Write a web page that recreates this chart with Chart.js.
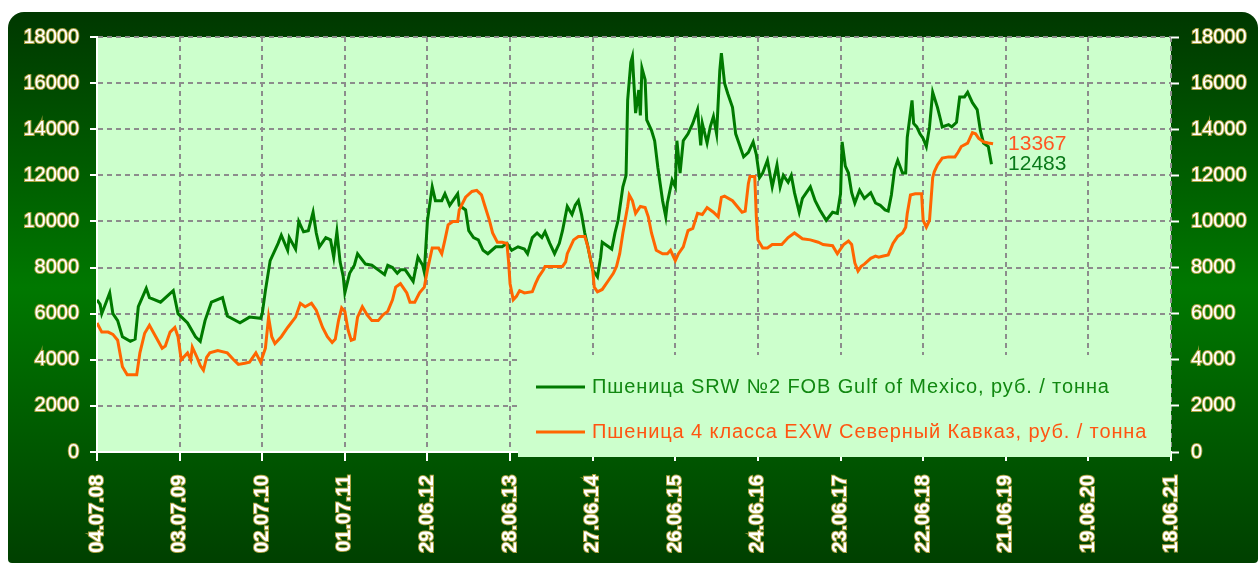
<!DOCTYPE html>
<html>
<head>
<meta charset="utf-8">
<script src="https://cdn.jsdelivr.net/npm/chart.js@4.4.1/dist/chart.umd.min.js"></script>
<style>
html, body { margin: 0; padding: 0; background: #fff; }
#wrap { width: 1258px; height: 563px; position: relative; }
</style>
</head>
<body>
<div id="wrap"><canvas id="chart"></canvas></div>
<script>
/* global Chart */

// x axis: weeks since 04.07.08, one label every 52 weeks
const tickLabels = ['04.07.08', '03.07.09', '02.07.10', '01.07.11', '29.06.12', '28.06.13', '27.06.14',
    '26.06.15', '24.06.16', '23.06.17', '22.06.18', '21.06.19', '19.06.20', '18.06.21'];
const weeksPerTick = 52;

const greenLabel = 'Пшеница SRW №2 FOB Gulf of Mexico, руб. / тонна';
const orangeLabel = 'Пшеница 4 класса EXW Северный Кавказ, руб. / тонна';

const greenWeeks = [0, 2, 3, 8, 10, 13, 16, 21, 24, 26, 31, 33, 40, 48, 51, 57, 62, 65, 68, 72, 79, 82, 90, 96,
    103, 104, 106, 109, 114, 116, 120, 121, 125, 127, 130, 133, 136, 138, 140, 144, 147, 149, 151, 153, 155, 156,
    159, 162, 164, 169, 173, 177, 181, 183, 186, 189, 191, 194, 196, 199, 202, 205, 206, 208, 211, 213, 217, 219,
    222, 227, 228, 232, 234, 237, 240, 243, 246, 251, 255, 258, 261, 265, 269, 271, 274, 277, 280, 282, 285, 288,
    291, 293, 296, 299, 301, 303, 305, 307, 309, 312, 315, 317, 318, 322, 324, 326, 328, 331, 333, 334, 336, 337,
    339, 341, 342, 343, 345, 346, 349, 351, 353, 356, 358, 359, 362, 364, 365, 367, 369, 372, 375, 378, 380, 381,
    384, 386, 388, 390, 392, 393, 395, 397, 400, 402, 404, 407, 410, 413, 415, 417, 419, 422, 425, 428, 430, 432,
    435, 437, 439, 442, 444, 449, 452, 455, 459, 463, 466, 468, 469, 471, 473, 475, 477, 480, 483, 487, 490, 493,
    496, 498, 500, 502, 504, 507, 509, 510, 513, 514, 516, 518, 520, 522, 524, 526, 529, 531, 532, 536, 538, 541,
    543, 546, 548, 551, 554, 556, 558, 561, 563];
const greenValues = [6600, 6400, 6000, 6900, 6000, 5700, 5000, 4800, 4900, 6300, 7100, 6700, 6500, 7000, 6000,
    5600, 5000, 4800, 5700, 6500, 6700, 5900, 5600, 5850,
    5800, 6000, 7000, 8300, 9050, 9400, 8750, 9300, 8800, 10000, 9550, 9600, 10400, 9500, 8900, 9300, 9200, 8450,
    9550, 8250, 7600, 6900,
    7750, 8100, 8600, 8150, 8100, 7900, 7700, 8100, 8000, 7750, 7900, 7900, 7700, 7400, 8450, 8100, 7800, 10050,
    11500, 10900, 10900, 11200,
    10700, 11200, 10700, 10500, 9600, 9300, 9200, 8750, 8600, 8900, 8900, 9050, 8750, 8900, 8800, 8600, 9300, 9500,
    9300, 9550, 9050, 8600,
    9050, 9600, 10650, 10300, 10700, 10900, 10300, 9500, 8900, 7900, 7600, 8450, 9100, 8900, 8800, 9500, 10050,
    11500, 12000, 15250, 16900, 17150,
    14700, 15700, 14600, 16650, 16150, 14400, 13950, 13500, 12350, 10900, 10200, 10800, 11800, 11500, 13500, 12100,
    13500, 13800, 14250, 14850, 13300, 14250,
    13400, 14100, 14550, 13800, 16550, 17300, 16000, 15550, 14950, 13800, 13400, 12800, 13000, 13450, 12900, 11900,
    12100, 12650, 11500, 12450, 11500, 12000,
    11700, 12000, 11250, 10400, 11000, 11500, 10900, 10500, 10050, 10400, 10350, 11200, 13450, 12400, 12100, 11250,
    10800, 11350, 11000, 11250, 10800, 10700,
    10500, 10450, 11150, 12250, 12650, 12100, 12100, 13650, 15250, 14250, 14100, 13800, 13600, 13250, 14100, 15600,
    14950, 14400, 14100, 14200, 14100, 14300,
    15400, 15400, 15600, 15150, 14850, 13950, 13400, 13250, 12483];

const orangeWeeks = [0, 3, 7, 10, 13, 16, 19, 25, 27, 30, 33, 37, 41, 43, 46, 49, 51, 53, 57, 59, 60, 63, 65, 67,
    69, 71, 76, 82, 86, 89, 93, 96, 100, 103, 106, 108, 110, 112, 116, 120, 125, 128, 131, 135, 138, 142, 145, 148,
    150, 152, 154, 156, 158, 160, 162, 164, 167, 170, 173, 177, 180, 183, 186, 188, 191, 195, 197, 200, 203, 206,
    208, 211, 215, 217, 219, 221, 224, 227, 228, 232, 236, 239, 242, 244, 247, 249, 252, 255, 258, 259, 260, 262,
    264, 266, 269, 274, 276, 278, 281, 282, 293, 295, 296, 300, 303, 307, 309, 312, 313, 315, 318, 322, 325, 327,
    329, 331, 334, 335, 337, 339, 342, 345, 347, 349, 352, 356, 359, 361, 364, 366, 369, 372, 375, 378, 381, 384,
    388, 391, 393, 395, 400, 403, 406, 408, 410, 411, 414, 415, 416, 419, 422, 425, 431, 435, 439, 444, 449, 454,
    457, 463, 466, 470, 473, 475, 477, 479, 481, 483, 487, 490, 492, 495, 498, 501, 504, 507, 509, 510, 512, 515,
    519, 520, 522, 524, 526, 527, 529, 532, 536, 540, 542, 544, 548, 551, 553, 555, 558, 561, 564];
const orangeValues = [5600, 5200, 5200, 5100, 4850, 3700, 3350, 3350, 4300, 5150, 5500, 5000, 4500, 4600, 5200,
    5400, 5000, 4000, 4300, 4000, 4550, 4100, 3750, 3550,
    4100, 4300, 4400, 4300, 4000, 3800, 3850, 3900, 4300, 3900, 4500, 5850, 5000, 4700, 5000, 5400, 5850, 6450,
    6300, 6450, 6150, 5400, 5000, 4750,
    4900, 5700, 6250, 6100, 5300, 4850, 4900, 5850, 6300, 5950, 5700, 5700, 5950, 6100, 6600, 7150, 7300, 6900,
    6500, 6500, 6900, 7150,
    7900, 8850, 8850, 8600, 9200, 9850, 10000, 10000, 10500, 11050, 11300, 11350, 11150, 10700, 10050, 9500, 9100,
    9100, 9050, 8300, 7300, 6600,
    6750, 7000, 6900, 6950, 7300, 7600, 7900, 8050, 8050, 8250, 8600, 9200, 9350, 9350, 8900, 7900, 7150, 6950,
    7050, 7450, 7750, 8050,
    8600, 9500, 10650, 11150, 10900, 10350, 10650, 10600, 10200, 9500, 8750, 8600, 8600, 8750, 8300, 8600, 8900,
    9600, 9700, 10350, 10300, 10600,
    10400, 10200, 11050, 11100, 10900, 10650, 10400, 10450, 11650, 11950, 11950, 10200, 9200, 8850, 8850, 9000,
    9000, 9300, 9500, 9250, 9200, 9100,
    9000, 8950, 8600, 9000, 9150, 9000, 8200, 7850, 8050, 8150, 8400, 8500, 8450, 8500, 8550, 9050, 9350, 9500,
    9750, 10350, 11150, 11200,
    11200, 10050, 9750, 10050, 11900, 12150, 12450, 12750, 12800, 12800, 13000, 13250, 13400, 13850, 13800, 13600,
    13450, 13400, 13367];

const yMax = 18000;
const yStep = 2000;

const fontFamily = '"Liberation Sans", Arial, sans-serif';
const greenColor = '#007a00';
const orangeColor = '#ff6600';
const plotColor = '#ccffcc';
const gridColor = '#8c8c8c';

const toPoints = (weeks, values) => weeks.map((week, i) => ({ x: week, y: values[i] }));

const framePlugin = {
    id: 'frame',
    beforeDraw(chart) {
        const { ctx, width, height, chartArea } = chart;
        ctx.save();
        ctx.fillStyle = '#fff';
        ctx.fillRect(0, 0, width, height);

        const gradient = ctx.createLinearGradient(0, 12, 0, height);
        gradient.addColorStop(0, '#003800');
        gradient.addColorStop(0.5, '#007800');
        gradient.addColorStop(1, '#004000');
        ctx.fillStyle = gradient;
        ctx.beginPath();
        ctx.roundRect(8, 12, width - 8, height - 12, [16, 16, 4, 4]);
        ctx.fill();

        ctx.fillStyle = plotColor;
        ctx.fillRect(chartArea.left, chartArea.top, chartArea.right - chartArea.left, chartArea.bottom - chartArea.top);
        ctx.restore();
    }
};

const legendPlugin = {
    id: 'boxLegend',
    afterDatasetsDraw(chart) {
        const { ctx, chartArea } = chart;
        const x = 518;
        const y = 355;
        ctx.save();
        ctx.fillStyle = plotColor;
        ctx.fillRect(x, y, chartArea.right - x, chartArea.bottom + 5 - y);

        ctx.font = `20px ${fontFamily}`;
        ctx.letterSpacing = '0.9px';
        ctx.textBaseline = 'middle';
        [[greenColor, '#118811', greenLabel, 387], [orangeColor, '#ff5511', orangeLabel, 432]].forEach(([line, text, label, ly]) => {
            ctx.strokeStyle = line;
            ctx.lineWidth = 3;
            ctx.beginPath();
            ctx.moveTo(536, ly);
            ctx.lineTo(585, ly);
            ctx.stroke();
            ctx.fillStyle = text;
            ctx.fillText(label, 592, ly);
        });
        ctx.letterSpacing = '0px';

        // last values at the ends of the lines
        const xScale = chart.scales.x;
        const yScale = chart.scales.y;
        const endX = xScale.getPixelForValue(orangeWeeks[orangeWeeks.length - 1]) + 15;
        ctx.font = `21px ${fontFamily}`;
        ctx.fillStyle = '#ff5522';
        ctx.fillText(String(orangeValues[orangeValues.length - 1]), endX,
            yScale.getPixelForValue(orangeValues[orangeValues.length - 1]));
        ctx.fillStyle = '#0a7a1a';
        ctx.fillText(String(greenValues[greenValues.length - 1]), endX,
            yScale.getPixelForValue(greenValues[greenValues.length - 1]));
        ctx.restore();
    }
};

const tickFont = { family: fontFamily, size: 20 };
const glow = { textStrokeColor: 'rgba(190,170,70,0.9)', textStrokeWidth: 2 };
const plainNumber = (value) => String(value);

new Chart(document.getElementById('chart'), {
    type: 'line',
    data: {
        datasets: [
            {
                label: orangeLabel,
                data: toPoints(orangeWeeks, orangeValues),
                borderColor: orangeColor,
                borderWidth: 3,
                pointRadius: 0,
                tension: 0,
                order: 0
            },
            {
                label: greenLabel,
                data: toPoints(greenWeeks, greenValues),
                borderColor: greenColor,
                borderWidth: 3,
                pointRadius: 0,
                tension: 0,
                order: 1
            }
        ]
    },
    options: {
        responsive: true,
        maintainAspectRatio: false,
        animation: false,
        devicePixelRatio: 1,
        layout: { padding: { top: 37, left: 0, right: 0, bottom: 0 } },
        plugins: {
            legend: { display: false },
            tooltip: { enabled: false }
        },
        scales: {
            x: {
                type: 'linear',
                min: 0,
                max: weeksPerTick * (tickLabels.length - 1),
                afterBuildTicks: (scale) => {
                    scale.ticks = tickLabels.map((_, i) => ({ value: i * weeksPerTick }));
                },
                afterFit: (scale) => { scale.height = 111; },
                ticks: {
                    callback: (value, index) => tickLabels[index],
                    autoSkip: false,
                    minRotation: 90,
                    maxRotation: 90,
                    padding: 14,
                    color: '#fff',
                    font: { family: fontFamily, size: 20, weight: 'bold' },
                    ...glow
                },
                grid: {
                    color: gridColor,
                    lineWidth: 2,
                    tickLength: 9,
                    tickColor: '#fff',
                    tickWidth: 2,
                    tickBorderDash: []
                },
                border: { display: true, color: '#fff', width: 2, dash: [5, 4] }
            },
            y: {
                position: 'left',
                min: 0,
                max: yMax,
                afterFit: (scale) => { scale.width = 97; },
                ticks: { stepSize: yStep, padding: 11, color: '#fff', font: tickFont, callback: plainNumber, ...glow },
                grid: {
                    color: gridColor,
                    lineWidth: 2,
                    tickLength: 7,
                    tickColor: '#fff',
                    tickWidth: 2,
                    tickBorderDash: []
                },
                border: { display: true, color: '#fff', width: 2, dash: [5, 4] }
            },
            y1: {
                position: 'right',
                min: 0,
                max: yMax,
                afterFit: (scale) => { scale.width = 87; },
                ticks: { stepSize: yStep, padding: 12, color: '#fff', font: tickFont, callback: plainNumber, ...glow },
                grid: {
                    drawOnChartArea: false,
                    tickLength: 8,
                    tickColor: '#fff',
                    tickWidth: 2,
                    tickBorderDash: []
                },
                border: { display: false }
            }
        }
    },
    plugins: [framePlugin, legendPlugin]
});
</script>
</body>
</html>
